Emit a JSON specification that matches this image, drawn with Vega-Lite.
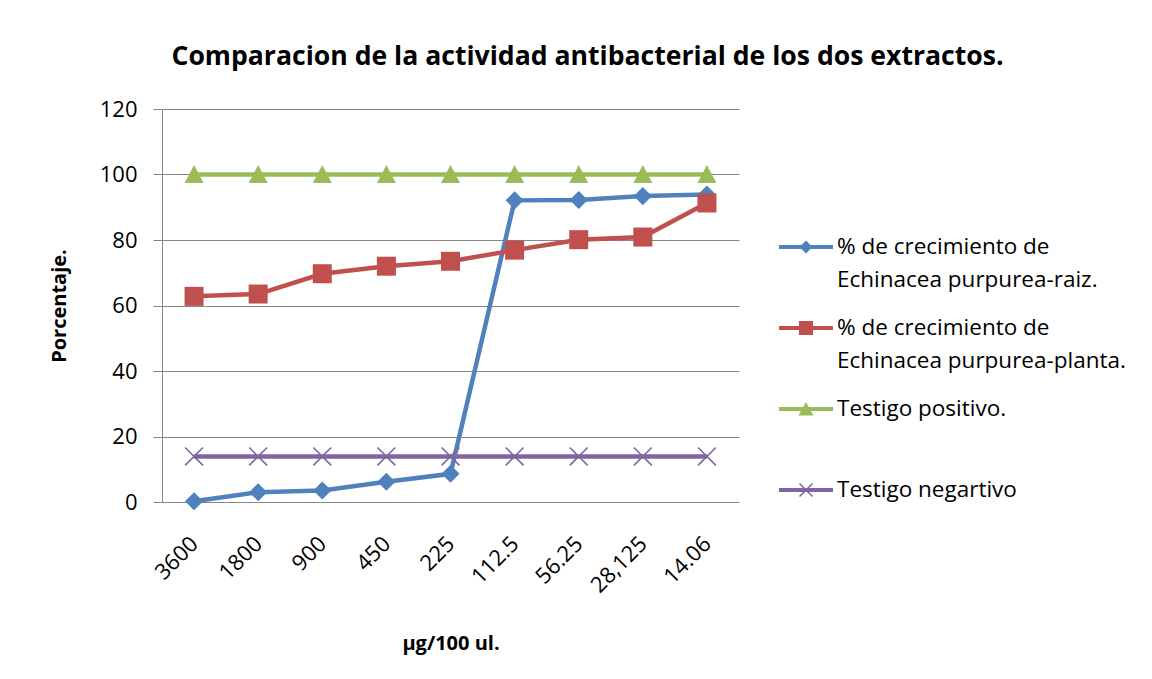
{
  "$schema": "https://vega.github.io/schema/vega-lite/v6.json",
  "width": 577,
  "height": 393,
  "autosize": {"type": "none"},
  "padding": {"left": 162, "top": 109, "right": 413, "bottom": 177},
  "background": "white",
  "title": {
    "text": "Comparacion de la actividad antibacterial de los dos extractos.",
    "anchor": "middle",
    "frame": "group",
    "dx": 137,
    "offset": 27,
    "font": "Open Sans",
    "fontSize": 26.6,
    "fontWeight": "bold",
    "color": "#000000"
  },
  "config": {"view": {"stroke": null}, "font": "Open Sans"},
  "resolve": {"legend": {"color": "independent"}},
  "data": {
    "values": [
      {"conc": "3600", "serie": "% de crecimiento de|Echinacea purpurea-raiz.", "pct": 0.2},
      {"conc": "1800", "serie": "% de crecimiento de|Echinacea purpurea-raiz.", "pct": 3.0},
      {"conc": "900", "serie": "% de crecimiento de|Echinacea purpurea-raiz.", "pct": 3.5},
      {"conc": "450", "serie": "% de crecimiento de|Echinacea purpurea-raiz.", "pct": 6.2},
      {"conc": "225", "serie": "% de crecimiento de|Echinacea purpurea-raiz.", "pct": 8.6},
      {"conc": "112.5", "serie": "% de crecimiento de|Echinacea purpurea-raiz.", "pct": 92.1},
      {"conc": "56.25", "serie": "% de crecimiento de|Echinacea purpurea-raiz.", "pct": 92.2},
      {"conc": "28,125", "serie": "% de crecimiento de|Echinacea purpurea-raiz.", "pct": 93.4},
      {"conc": "14.06", "serie": "% de crecimiento de|Echinacea purpurea-raiz.", "pct": 93.9},
      {"conc": "3600", "serie": "% de crecimiento de|Echinacea purpurea-planta.", "pct": 62.8},
      {"conc": "1800", "serie": "% de crecimiento de|Echinacea purpurea-planta.", "pct": 63.5},
      {"conc": "900", "serie": "% de crecimiento de|Echinacea purpurea-planta.", "pct": 69.7},
      {"conc": "450", "serie": "% de crecimiento de|Echinacea purpurea-planta.", "pct": 72.0},
      {"conc": "225", "serie": "% de crecimiento de|Echinacea purpurea-planta.", "pct": 73.5},
      {"conc": "112.5", "serie": "% de crecimiento de|Echinacea purpurea-planta.", "pct": 76.9},
      {"conc": "56.25", "serie": "% de crecimiento de|Echinacea purpurea-planta.", "pct": 80.1},
      {"conc": "28,125", "serie": "% de crecimiento de|Echinacea purpurea-planta.", "pct": 80.9},
      {"conc": "14.06", "serie": "% de crecimiento de|Echinacea purpurea-planta.", "pct": 91.3},
      {"conc": "3600", "serie": "Testigo positivo.|", "pct": 100},
      {"conc": "1800", "serie": "Testigo positivo.|", "pct": 100},
      {"conc": "900", "serie": "Testigo positivo.|", "pct": 100},
      {"conc": "450", "serie": "Testigo positivo.|", "pct": 100},
      {"conc": "225", "serie": "Testigo positivo.|", "pct": 100},
      {"conc": "112.5", "serie": "Testigo positivo.|", "pct": 100},
      {"conc": "56.25", "serie": "Testigo positivo.|", "pct": 100},
      {"conc": "28,125", "serie": "Testigo positivo.|", "pct": 100},
      {"conc": "14.06", "serie": "Testigo positivo.|", "pct": 100},
      {"conc": "3600", "serie": "Testigo negartivo|", "pct": 13.9},
      {"conc": "1800", "serie": "Testigo negartivo|", "pct": 13.9},
      {"conc": "900", "serie": "Testigo negartivo|", "pct": 13.9},
      {"conc": "450", "serie": "Testigo negartivo|", "pct": 13.9},
      {"conc": "225", "serie": "Testigo negartivo|", "pct": 13.9},
      {"conc": "112.5", "serie": "Testigo negartivo|", "pct": 13.9},
      {"conc": "56.25", "serie": "Testigo negartivo|", "pct": 13.9},
      {"conc": "28,125", "serie": "Testigo negartivo|", "pct": 13.9},
      {"conc": "14.06", "serie": "Testigo negartivo|", "pct": 13.9}
    ]
  },
  "encoding": {
    "x": {
      "field": "conc",
      "type": "ordinal",
      "sort": ["3600", "1800", "900", "450", "225", "112.5", "56.25", "28,125", "14.06"],
      "scale": {"type": "point", "padding": 0.5},
      "axis": {
        "title": "µg/100 ul.",
        "titleFont": "Open Sans",
        "titleFontSize": 20,
        "titleFontWeight": "bold",
        "titleColor": "#000000",
        "titlePadding": 37,
        "labelAngle": -45,
        "labelAlign": "right",
        "labelBaseline": "middle",
        "labelPadding": 38,
        "labelFontSize": 22,
        "labelColor": "#000000",
        "ticks": false,
        "domain": false
      }
    },
    "y": {
      "field": "pct",
      "type": "quantitative",
      "scale": {"domain": [0, 120], "nice": false},
      "axis": {
        "title": "Porcentaje.",
        "titleFont": "Open Sans",
        "titleFontSize": 20,
        "titleFontWeight": "bold",
        "titleColor": "#000000",
        "titlePadding": 30,
        "values": [0, 20, 40, 60, 80, 100, 120],
        "grid": true,
        "gridColor": "#868686",
        "gridWidth": 1,
        "domainColor": "#868686",
        "tickColor": "#868686",
        "tickSize": 9,
        "labelPadding": 16,
        "labelFontSize": 22,
        "labelColor": "#000000"
      }
    }
  },
  "layer": [
    {
      "mark": {"type": "line", "strokeWidth": 4.5},
      "encoding": {
        "color": {
          "field": "serie",
          "type": "nominal",
          "scale": {
            "domain": ["% de crecimiento de|Echinacea purpurea-raiz.", "% de crecimiento de|Echinacea purpurea-planta.", "Testigo positivo.|", "Testigo negartivo|"],
            "range": ["#4F81BD", "#C0504D", "#9BBB59", "#8064A2"]
          },
          "legend": null
        }
      }
    },
    {
      "mark": {"type": "point", "filled": true, "opacity": 1, "size": 361, "strokeWidth": 0},
      "encoding": {
        "shape": {
          "field": "serie",
          "type": "nominal",
          "scale": {
            "domain": ["% de crecimiento de|Echinacea purpurea-raiz.", "% de crecimiento de|Echinacea purpurea-planta.", "Testigo positivo.|", "Testigo negartivo|"],
            "range": [
              "M0,-0.95L0.95,0L0,0.95L-0.95,0Z",
              "M-1,-1H1V1H-1Z",
              "M0,-1L1,0.9H-1Z",
              "M-1,-0.88L-0.88,-1L1,0.88L0.88,1Z M1,-0.88L-0.88,1L-1,0.88L0.88,-1Z"
            ]
          },
          "legend": null
        },
        "color": {
          "field": "serie",
          "type": "nominal",
          "scale": {
            "domain": ["% de crecimiento de|Echinacea purpurea-raiz.", "% de crecimiento de|Echinacea purpurea-planta.", "Testigo positivo.|", "Testigo negartivo|"],
            "range": ["#4F81BD", "#C0504D", "#9BBB59", "#8064A2"]
          },
          "legend": {
            "orient": "none",
            "legendX": 617,
            "legendY": 111,
            "title": null,
            "labelFont": "Open Sans",
            "labelFontSize": 22.5,
            "labelColor": "#000000",
            "labelLimit": 400,
            "labelOffset": 4,
            "labelExpr": "split(datum.label, '|')",
            "symbolSize": 2916,
            "symbolStrokeWidth": 0,
            "rowPadding": 9,
            "encoding": {
              "symbols": {
                "shape": {"value": {"expr": "datum.value == '% de crecimiento de|Echinacea purpurea-raiz.' ? 'M-1,-0.075H1V0.075H-1Z M0,-0.24L0.24,0L0,0.24L-0.24,0Z' : datum.value == '% de crecimiento de|Echinacea purpurea-planta.' ? 'M-1,-0.075H1V0.075H-1Z M-0.26,-0.26H0.26V0.26H-0.26Z' : datum.value == 'Testigo positivo.|' ? 'M-1,-0.075H1V0.075H-1Z M0,-0.26L0.28,0.24H-0.28Z' : 'M-1,-0.075H1V0.075H-1Z M-0.26,-0.22L-0.22,-0.26L0.26,0.22L0.22,0.26Z M0.26,-0.22L-0.22,0.26L-0.26,0.22L0.22,-0.26Z'"}}
              },
              "labels": {
                "lineHeight": {"value": 33}
              }
            }
          }
        }
      }
    }
  ]
}
